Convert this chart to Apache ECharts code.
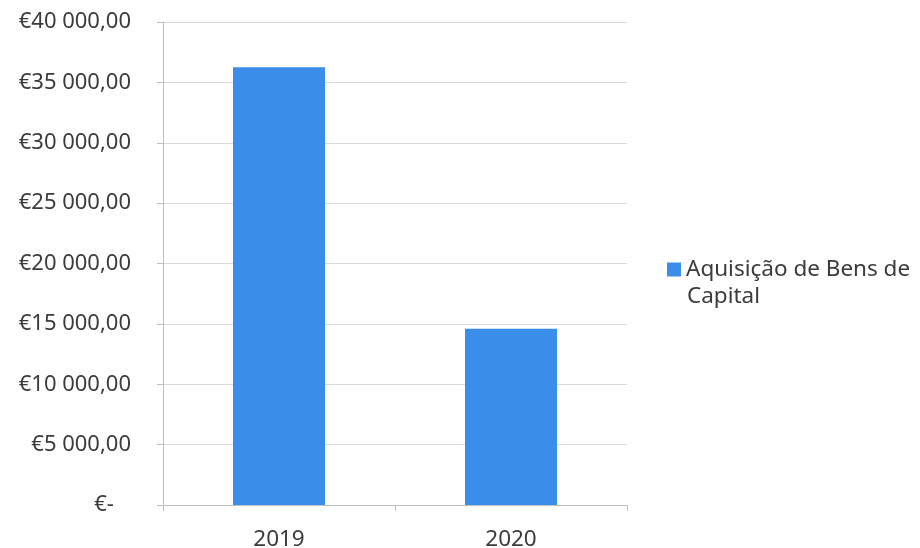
<!DOCTYPE html>
<html><head><meta charset="utf-8">
<script src="https://cdn.jsdelivr.net/npm/echarts@6/dist/echarts.min.js"></script>
<style>html,body{margin:0;padding:0;background:#fff}#c{width:920px;height:548px}</style>
</head><body><div id="c"></div>
<script>
const categories = ['2019', '2020'];
const seriesName = 'Aquisição de Bens de Capital';
const values = [36250, 14600];
const legendLine1 = 'Aquisição de Bens de';
const legendLine2 = 'Capital';

function fmt(v) {
  if (v === 0) return '€-   ';
  const s = Math.round(v).toString().replace(/\B(?=(\d{3})+(?!\d))/g, ' ');
  return '€' + s + ',00';
}
const chart = echarts.init(document.getElementById('c'));
const txt = '#3b3b3b';
const font = 'Noto Sans';
chart.setOption({
  animation: false,
  grid: { left: 163, right: 293, top: 22, bottom: 43, containLabel: false, outerBoundsMode: 'none' },
  xAxis: {
    type: 'category', data: categories,
    axisLine: { lineStyle: { color: '#bfbfbf' } },
    axisTick: { show: true, length: 6, lineStyle: { color: '#bfbfbf' } },
    axisLabel: { color: txt, fontFamily: font, fontSize: 22.5, margin: 23 }
  },
  yAxis: {
    type: 'value', min: 0, max: 40000, interval: 5000,
    axisLine: { show: true, lineStyle: { color: '#bfbfbf' } },
    axisTick: { show: true, length: 6, lineStyle: { color: '#bfbfbf' } },
    splitLine: { lineStyle: { color: '#d9d9d9' } },
    axisLabel: { color: txt, fontFamily: font, fontSize: 22, margin: 32, formatter: fmt }
  },
  legend: {
    orient: 'vertical', left: 667, top: 258, padding: 0,
    itemWidth: 14, itemHeight: 14, itemGap: 8,
    icon: 'rect',
    formatter: () => legendLine1,
    textStyle: { color: txt, fontFamily: font, fontSize: 22.5 },
    data: [seriesName]
  },
  graphic: [{
    type: 'text', left: 687, top: 285,
    style: { text: legendLine2, fill: txt, font: '22.5px "Noto Sans"' }
  }],
  series: [{
    name: seriesName, type: 'bar', data: values, barWidth: 92,
    itemStyle: { color: '#3a8de8' }
  }]
});
</script></body></html>
